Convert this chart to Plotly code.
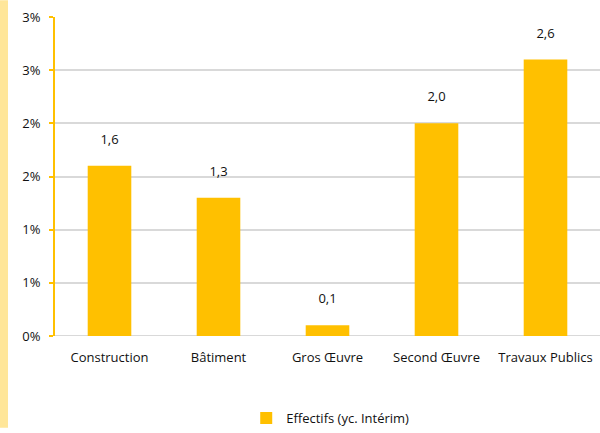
import plotly.graph_objects as go

categories = ["Construction", "Bâtiment", "Gros Œuvre", "Second Œuvre", "Travaux Publics"]
effectifs = [1.6, 1.3, 0.1, 2.0, 2.6]
tick_values = [0, 0.5, 1.0, 1.5, 2.0, 2.5, 3.0]
tick_labels = ["0%", "1%", "1%", "2%", "2%", "3%", "3%"]

BAR_COLOR = "#FFC000"
TEXT_COLOR = "#111111"
FONT = "Open Sans, sans-serif"

W, H = 600, 433
L, R, T, B = 55, 0, 17, 93
plot_w = W - L - R
plot_h = H - T - B

# value labels sit a little higher above the bars via a small spacer line
labels = [f"{v:.1f}".replace(".", ",") + "<br><span style='font-size:6px'> </span>" for v in effectifs]

fig = go.Figure()
fig.add_trace(go.Bar(
    x=categories,
    y=effectifs,
    name="Effectifs (yc. Intérim)",
    marker=dict(color=BAR_COLOR, line=dict(width=0)),
    text=labels,
    textposition="outside",
    textfont=dict(size=13, color=TEXT_COLOR, family=FONT),
    cliponaxis=False,
))

fig.update_layout(
    width=W, height=H,
    margin=dict(l=L, r=R, t=T, b=B),
    paper_bgcolor="white",
    plot_bgcolor="white",
    bargap=0.6,
    font=dict(family=FONT, size=13, color=TEXT_COLOR),
    showlegend=True,
    legend=dict(
        orientation="h",
        x=0.505, xanchor="center",
        y=-(423 - (T + plot_h)) / plot_h, yanchor="middle",
        font=dict(size=13, color=TEXT_COLOR),
        itemwidth=30,
    ),
    xaxis=dict(
        showgrid=False,
        showline=False,
        ticks="",
        tickfont=dict(size=13),
        ticklabelstandoff=12,
    ),
    yaxis=dict(
        range=[0, 3.0],
        tickvals=tick_values,
        ticktext=tick_labels,
        showgrid=True,
        gridcolor="#D9D9D9",
        gridwidth=1.5,
        showline=True,
        linecolor=BAR_COLOR,
        linewidth=2,
        ticks="outside",
        ticklen=4,
        tickcolor=BAR_COLOR,
        tickwidth=2,
        zeroline=False,
        tickfont=dict(size=13),
        ticklabelstandoff=6,
    ),
    shapes=[
        dict(
            type="rect", xref="paper", yref="paper",
            x0=-L / plot_w, x1=-(L - 8) / plot_w,
            y0=-B / plot_h, y1=1 + T / plot_h,
            fillcolor="#FFE699", line=dict(width=0), layer="below",
        ),
        dict(
            type="line", xref="paper", yref="y",
            x0=0, x1=1, y0=0, y1=0,
            line=dict(color="#D9D9D9", width=2), layer="below",
        ),
    ],
)

fig.write_html("out.html")
